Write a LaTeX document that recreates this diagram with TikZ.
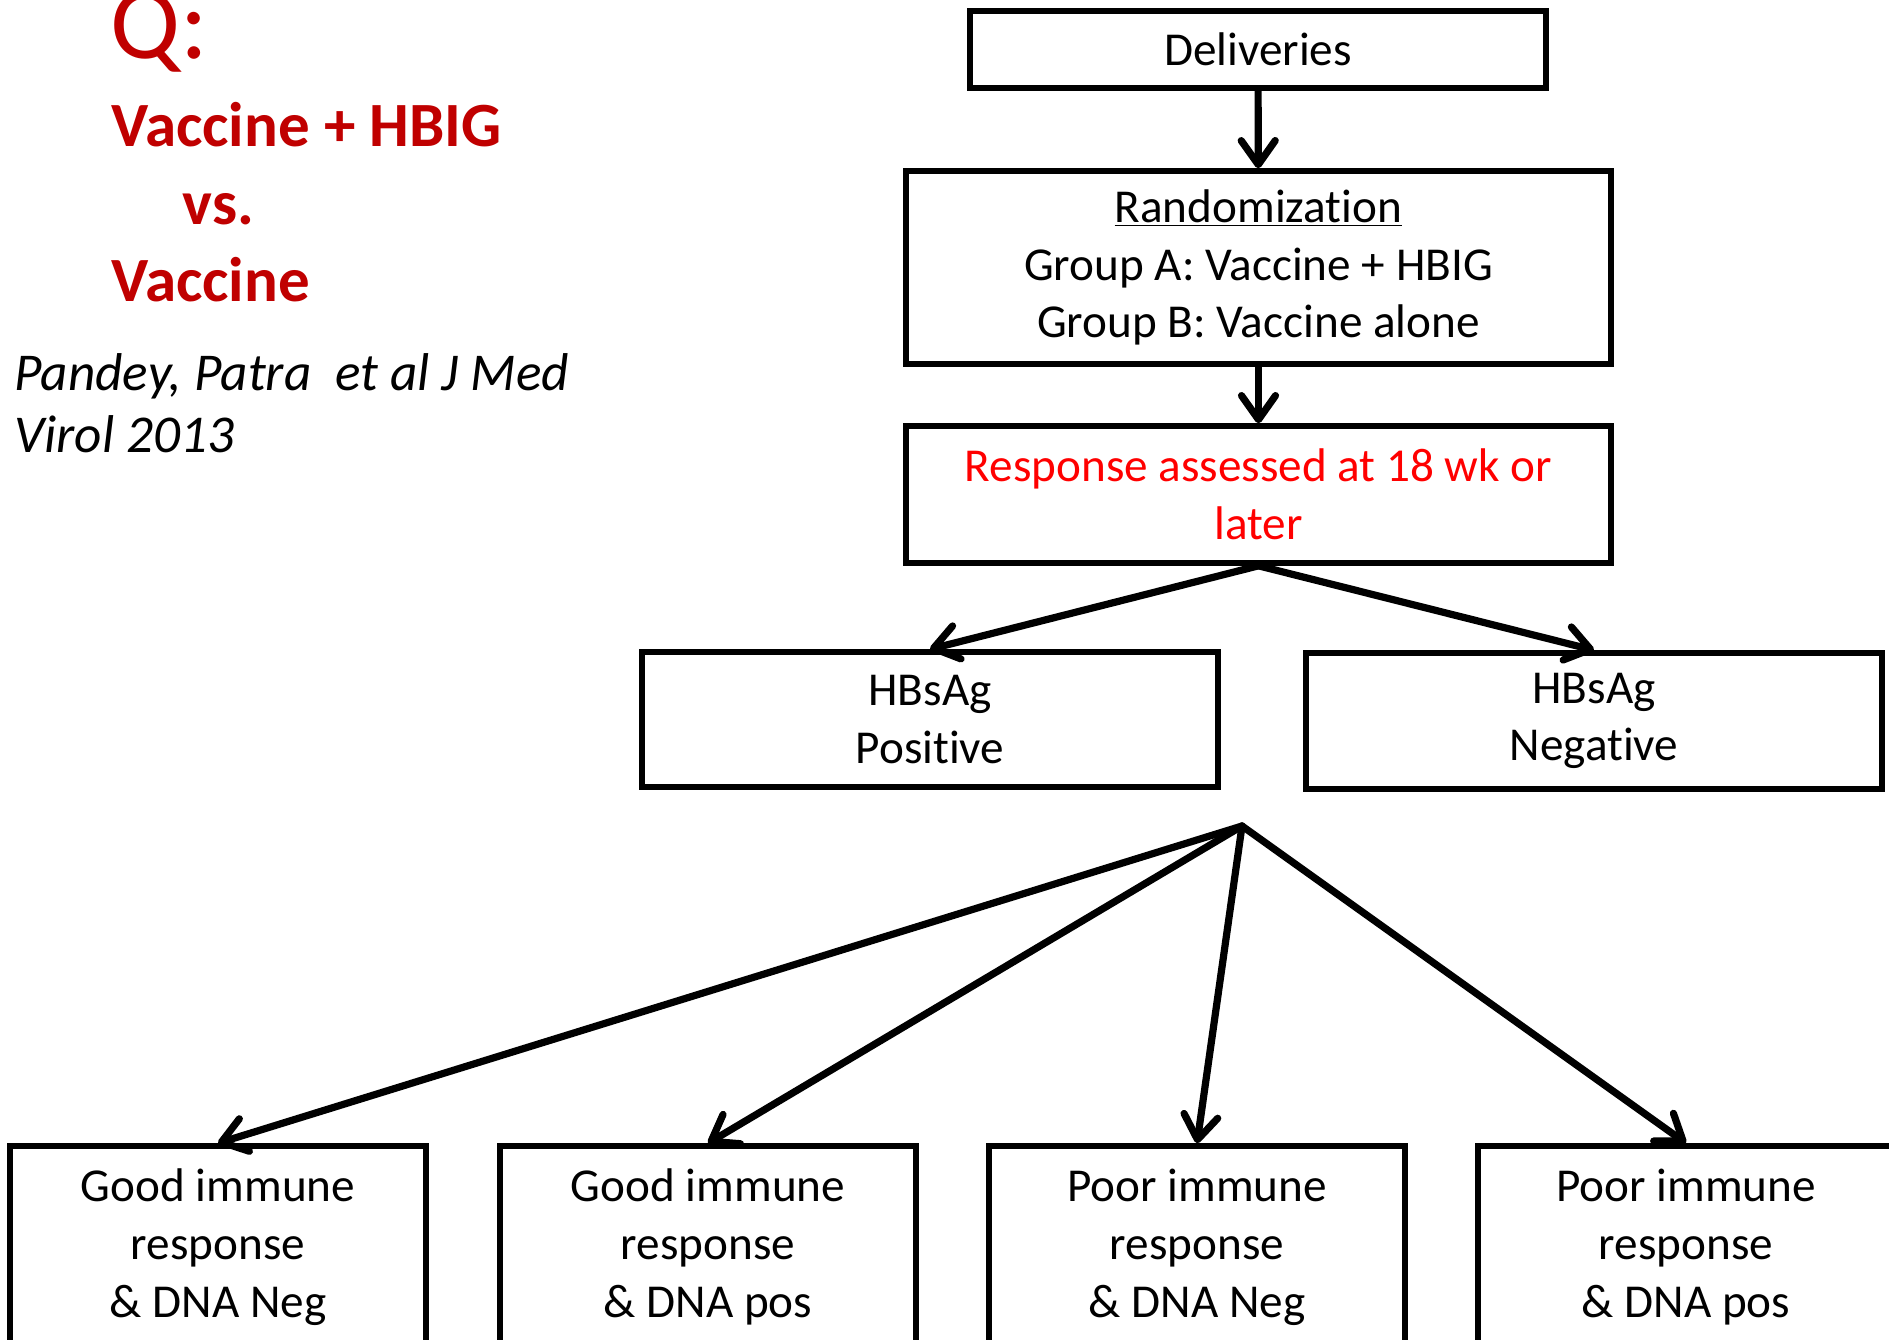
\documentclass[tikz,border=0pt]{standalone}
\usepackage{fontspec}
\setmainfont{Carlito}[Ligatures=NoCommon]
\usetikzlibrary{arrows.meta}
\definecolor{darkred}{HTML}{C00000}
\definecolor{brightred}{HTML}{FF0000}
\begin{document}
\begin{tikzpicture}[x=0.5pt,y=-0.5pt,
  box/.style={draw, line width=2.8pt, rectangle, align=center, inner sep=0pt,
    font=\fontsize{23.6}{28.9}\selectfont},
  conn/.style={line width=3.6pt, line cap=round,
    -{Straight Barb[length=12pt,width=17pt,round]}},
  title/.style={anchor=base west, inner sep=0pt, text=darkred},
  cite/.style={anchor=base west, inner sep=0pt, font=\itshape\fontsize{26.6}{32}\selectfont}
]
\useasboundingbox (0,0) rectangle (1889,1339);
\fill[white] (0,0) rectangle (1889,1339);
\clip (0,0) rectangle (1889,1339);

% left texts
\node[title, font=\fontsize{52}{62}\selectfont] (q) at (110,58) {Q:};
\node[title, font=\bfseries\fontsize{31.5}{38}\selectfont] (t1) at (111,146) {Vaccine + HBIG};
\node[title, font=\bfseries\fontsize{31.5}{38}\selectfont] (t2) at (182,224) {vs.};
\node[title, font=\bfseries\fontsize{31.5}{38}\selectfont] (t3) at (111,301) {Vaccine};
\node[cite] (c1) at (14,390) {Pandey, Patra\ \ et al J Med};
\node[cite] (c2) at (14,452) {Virol 2013};

% flow boxes
\node[box, minimum width=288pt, minimum height=38.5pt] (deliv) at (1258,49.5) {Deliveries};
\node[box, minimum width=352.5pt, minimum height=96.5pt] (rand) at (1258.5,267.5)
  {\underline{Randomization}\\Group A: Vaccine + HBIG\\Group B: Vaccine alone};
\node[box, text=brightred, minimum width=352.5pt, minimum height=68.5pt] (resp) at (1258.5,494.5)
  {Response assessed at 18 wk or\\later};
\node[box, minimum width=288pt, minimum height=67.5pt] (pos) at (930,719.5) {HBsAg\\Positive};
\node[box, minimum width=288pt, minimum height=68pt] (neg) at (1594,721) {HBsAg\\Negative};
\coordinate (fan) at (1242,826);

\node[box, minimum width=208pt, minimum height=101pt] (b1) at (218,1247)
  {Good immune\\response\\\& DNA Neg};
\node[box, minimum width=208pt, minimum height=101pt] (b2) at (708,1247)
  {Good immune\\response\\\& DNA pos};
\node[box, minimum width=208pt, minimum height=101pt] (b3) at (1197,1247)
  {Poor immune\\response\\\& DNA Neg};
\node[box, minimum width=208pt, minimum height=101pt] (b4) at (1686,1247)
  {Poor immune\\response\\\& DNA pos};

% connectors
\draw[conn] (deliv) -- (rand);
\draw[conn] (rand) -- (resp);
\draw[conn] (resp.south) -- (pos.north);
\draw[conn] (resp.south) -- (neg.north);
\draw[conn] (fan) -- (b1.north);
\draw[conn] (fan) -- (b2.north);
\draw[conn] (fan) -- (b3.north);
\draw[conn] (fan) -- (b4.north);
\end{tikzpicture}
\end{document}
